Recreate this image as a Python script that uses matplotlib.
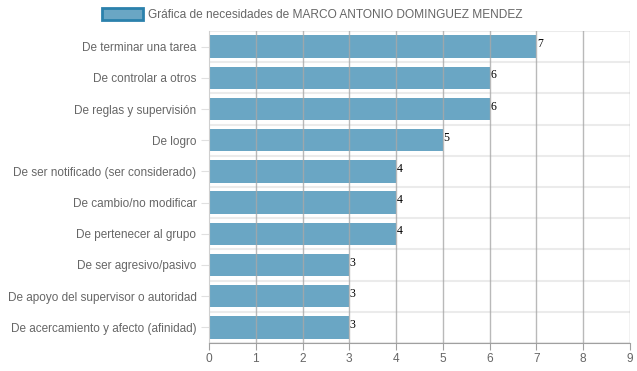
import matplotlib.pyplot as plt
from matplotlib.patches import Patch

plt.rcParams['font.family'] = ['Liberation Sans', 'DejaVu Sans']

categorias = ['De terminar una tarea', 'De controlar a otros', 'De reglas y supervisión',
              'De logro', 'De ser notificado (ser considerado)', 'De cambio/no modificar',
              'De pertenecer al grupo', 'De ser agresivo/pasivo',
              'De apoyo del supervisor o autoridad', 'De acercamiento y afecto (afinidad)']
valores = [7, 6, 6, 5, 4, 4, 4, 3, 3, 3]
titulo = 'Gráfica de necesidades de MARCO ANTONIO DOMINGUEZ MENDEZ'

base = (0.17, 0.506, 0.675)
gris = '#666666'

fig = plt.figure(figsize=(6.37, 3.71), dpi=100)
ax = fig.add_axes([0.328, 0.0755, 0.661, 0.8409])

y = list(range(len(categorias)))
ax.barh(y, valores, height=0.72, color=base, alpha=0.7, zorder=2)

# etiquetas de valor al final de cada barra
for yi, v in zip(y, valores):
    ax.text(v + 0.01, yi - 0.08, str(v), fontsize=8.5, family='Liberation Serif',
            color='black', va='center', ha='left', zorder=4)

ax.set_xlim(0, 9)
ax.set_ylim(len(categorias) - 0.5, -0.5)
ax.set_xticks(range(10))
ax.set_yticks(y)
ax.set_yticklabels(categorias)

# rejilla
for xv in range(1, 10):
    ax.axvline(xv, color='#a8a8a8', lw=1, zorder=3, alpha=0.8)
for k in range(len(categorias) + 1):
    ax.axhline(k - 0.5, color='#ebebeb', lw=1.5, zorder=1)

for s in ['top', 'right']:
    ax.spines[s].set_visible(False)
ax.spines['left'].set_color('#cfcfcf')
ax.spines['bottom'].set_color('#a0a0a0')
ax.tick_params(axis='x', colors='#a0a0a0', labelcolor=gris, labelsize=8.6, length=5, pad=2)
ax.tick_params(axis='y', colors='#e0e0e0', labelcolor=gris, labelsize=8.5, length=6, pad=3)

leg = fig.legend(handles=[Patch(facecolor=base + (0.7,), edgecolor=base, linewidth=2)],
                 labels=[titulo], loc='upper center', bbox_to_anchor=(0.49, 1.0),
                 frameon=False, fontsize=8.6, handlelength=3.5, handleheight=1.1,
                 handletextpad=0.4, borderaxespad=0.3)
for t in leg.get_texts():
    t.set_color(gris)

fig.savefig('out.png', dpi=100)
